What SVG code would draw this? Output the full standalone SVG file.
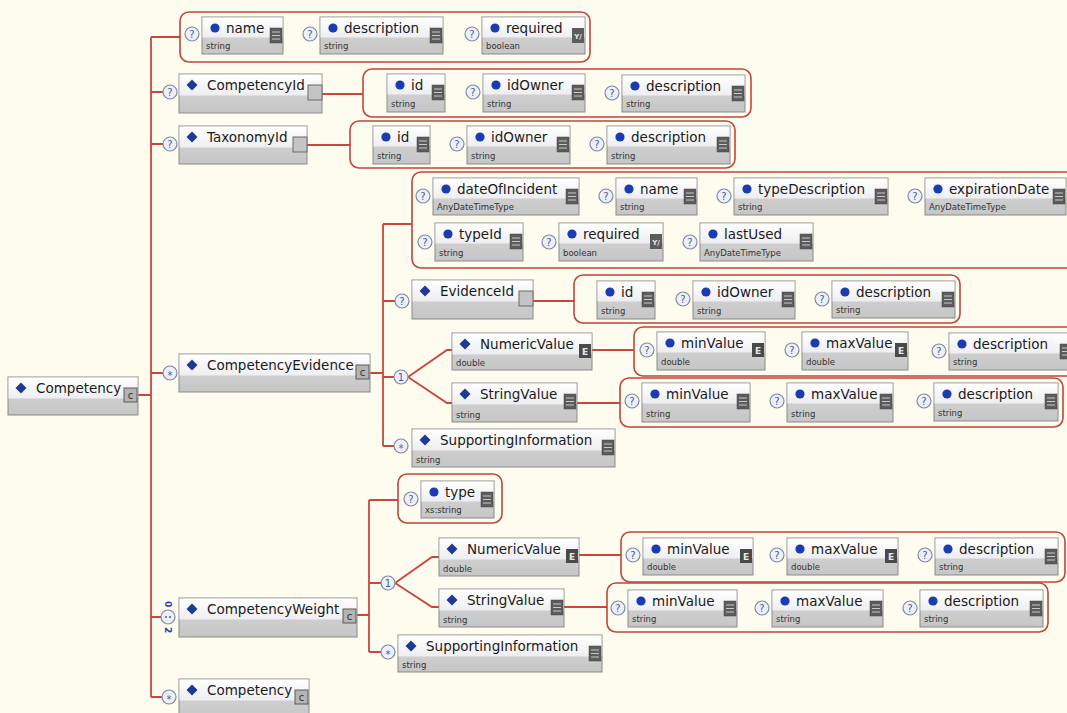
<svg xmlns="http://www.w3.org/2000/svg" xmlns:xlink="http://www.w3.org/1999/xlink" width="1067" height="713" viewBox="0 0 1067 713">
<defs>
<style>
.bx{fill:url(#gg);stroke:#8a8a8a;stroke-width:1}
.hd{fill:url(#gw)}
.nm{font-family:"DejaVu Sans","Liberation Sans",sans-serif;font-size:13.5px;fill:#1a1a1a}
.ty{font-family:"DejaVu Sans","Liberation Sans",sans-serif;font-size:8.5px;fill:#333}
.grp{fill:none;stroke:#c0463e;stroke-width:1.6}
.cn{fill:none;stroke:#c8463e;stroke-width:1.8}
.mc{fill:#eef0f8;stroke:#8088a8;stroke-width:1.2}
.mt{font-family:"DejaVu Sans","Liberation Sans",sans-serif;font-size:10px;fill:#4a5a9a;text-anchor:middle}
.ict{font-family:"DejaVu Sans","Liberation Sans",sans-serif;font-size:9px;fill:#e8e8e8;text-anchor:middle;font-weight:bold}
.icc{font-family:"DejaVu Sans","Liberation Sans",sans-serif;font-size:10px;fill:#333;text-anchor:middle}
.card{font-family:"DejaVu Sans","Liberation Sans",sans-serif;font-size:9px;fill:#2a3aa0;text-anchor:middle;dominant-baseline:central;font-weight:bold}
</style>
<linearGradient id="gw" x1="0" y1="0" x2="0" y2="1"><stop offset="0" stop-color="#ffffff"/><stop offset="1" stop-color="#eeeef2"/></linearGradient>
<linearGradient id="gg" x1="0" y1="0" x2="0" y2="1"><stop offset="0" stop-color="#d8d8d8"/><stop offset="1" stop-color="#c6c6c6"/></linearGradient>
<path id="dia" d="M0,-5.5L5.5,0L0,5.5L-5.5,0Z" fill="#1e3a94"/>
<circle id="dot" r="4.6" fill="#1a3cb0"/>
<g id="m-q"><circle r="7" class="mc"/><text y="3.6" class="mt">?</text></g>
<g id="m-s"><circle r="7" class="mc"/><text y="5.5" class="mt">*</text></g>
<g id="m-1"><circle r="7" class="mc"/><text y="3.6" class="mt">1</text></g>
<g id="m-d"><circle r="7" class="mc"/><circle cx="-2" cy="0" r="1" fill="#4a5a9a"/><circle cx="2" cy="0" r="1" fill="#4a5a9a"/></g>
<g id="ic-l"><rect width="12" height="15" fill="#5c5c5c" stroke="#444" stroke-width="0.5"/><path d="M2,4H10M2,7.5H10M2,11H10" stroke="#c8c8c8" stroke-width="1.2"/></g>
<g id="ic-e"><rect width="12" height="14" fill="#4a4a4a"/><text x="6" y="11" class="ict">E</text></g>
<g id="ic-c"><rect width="13" height="14" fill="#b4b4b4" stroke="#5a5a5a"/><text x="6.5" y="10.5" class="icc">c</text></g>
<g id="ic-x"><rect width="14" height="15" fill="#c4c4c4" stroke="#6a6a6a"/></g>
<g id="ic-yn"><rect width="12" height="15" fill="#5c5c5c"/><text x="6" y="11" class="ict" style="font-size:7px">Y/</text></g>
</defs>
<rect width="1067" height="713" fill="#fefcef"/>

<g id="connectors">
<path class="cn" d="M151,37V697M151,37H180M151,92H163M151,144H163M138,395H151M151,373H163M151,617H161M151,697H162"/>
<path class="cn" d="M322,94H363M307,145H350"/>
<path class="cn" d="M370,373H383M383,224V446M383,224H412M383,301H395M383,377H394M383,446H394"/>
<path class="cn" d="M408,377L447,350H452M408,377L447,403H452"/>
<path class="cn" d="M533,301H574M592,350H634M577,403H620"/>
<path class="cn" d="M357,615H369M369,500V652M369,500H398M369,583H381M369,652H381"/>
<path class="cn" d="M395,583L432,557H439M395,583L432,607H439"/>
<path class="cn" d="M579,555H621M564,607H607"/>
</g>

<g id="groups">
<rect id="g-top" class="grp" x="180" y="12" width="410" height="50" rx="9"/>
<rect id="g-cid" class="grp" x="363" y="69" width="388" height="48" rx="9"/>
<rect id="g-tid" class="grp" x="350" y="121" width="385" height="47" rx="9"/>
<rect id="g-ev" class="grp" x="412" y="172" width="670" height="96" rx="9"/>
<rect id="g-evid" class="grp" x="574" y="275" width="386" height="48" rx="9"/>
<rect id="g-evnv" class="grp" x="634" y="327" width="445" height="49" rx="9"/>
<rect id="g-evsv" class="grp" x="620" y="378" width="443" height="49" rx="9"/>
<rect id="g-type" class="grp" x="398" y="474" width="104" height="49" rx="9"/>
<rect id="g-cwnv" class="grp" x="621" y="532" width="444" height="50" rx="9"/>
<rect id="g-cwsv" class="grp" x="607" y="583" width="441" height="49" rx="9"/>
</g>

<g id="markers">
<use href="#m-q" x="170" y="92"/>
<use href="#m-q" x="170" y="144"/>
<use href="#m-s" x="170" y="373"/>
<use href="#m-d" x="168" y="617"/>
<text class="card" transform="translate(168,604) rotate(90)">0</text>
<text class="card" transform="translate(168,630) rotate(90)">2</text>
<use href="#m-s" x="169" y="697"/>
<use href="#m-q" x="402" y="301"/>
<use href="#m-1" x="401" y="377"/>
<use href="#m-s" x="401" y="446"/>
<use href="#m-1" x="388" y="583"/>
<use href="#m-s" x="388" y="652"/>
</g>

<!-- element nodes -->
<g id="n-competency">
<rect class="bx" x="8" y="377" width="130" height="38"/><rect class="hd" x="8.5" y="377.5" width="129" height="21"/>
<use href="#dia" x="21" y="388"/><text class="nm" x="36" y="393">Competency</text><use href="#ic-c" x="124" y="388"/>
</g>
<g id="n-competencyId">
<rect class="bx" x="179" y="74" width="143" height="39"/><rect class="hd" x="179.5" y="74.5" width="142" height="21"/>
<use href="#dia" x="192" y="85"/><text class="nm" x="207" y="90">CompetencyId</text><use href="#ic-x" x="308" y="85"/>
</g>
<g id="n-taxonomyId">
<rect class="bx" x="179" y="126" width="128" height="38"/><rect class="hd" x="179.5" y="126.5" width="127" height="21"/>
<use href="#dia" x="192" y="137"/><text class="nm" x="207" y="142">TaxonomyId</text><use href="#ic-x" x="293" y="137"/>
</g>
<g id="n-competencyEvidence">
<rect class="bx" x="179" y="354" width="191" height="38"/><rect class="hd" x="179.5" y="354.5" width="190" height="21"/>
<use href="#dia" x="192" y="365"/><text class="nm" x="207" y="370">CompetencyEvidence</text><use href="#ic-c" x="356" y="365"/>
</g>
<g id="n-evidenceId">
<rect class="bx" x="412" y="280" width="121" height="39"/><rect class="hd" x="412.5" y="280.5" width="120" height="21"/>
<use href="#dia" x="425" y="291"/><text class="nm" x="440" y="296">EvidenceId</text><use href="#ic-x" x="519" y="291"/>
</g>
<g id="n-ev-numericValue">
<rect class="bx" x="452" y="333" width="140" height="37"/><rect class="hd" x="452.5" y="333.5" width="139" height="21"/>
<use href="#dia" x="465" y="344"/><text class="nm" x="480" y="349">NumericValue</text><use href="#ic-e" x="579" y="344"/>
<text class="ty" x="456" y="366">double</text>
</g>
<g id="n-ev-stringValue">
<rect class="bx" x="452" y="383" width="125" height="39"/><rect class="hd" x="452.5" y="383.5" width="124" height="21"/>
<use href="#dia" x="465" y="394"/><text class="nm" x="480" y="399">StringValue</text><use href="#ic-l" x="564" y="394"/>
<text class="ty" x="456" y="418">string</text>
</g>
<g id="n-ev-supportingInformation">
<rect class="bx" x="412" y="429" width="203" height="38"/><rect class="hd" x="412.5" y="429.5" width="202" height="21"/>
<use href="#dia" x="425" y="440"/><text class="nm" x="440" y="445">SupportingInformation</text><use href="#ic-l" x="602" y="440"/>
<text class="ty" x="416" y="463">string</text>
</g>
<g id="n-competencyWeight">
<rect class="bx" x="179" y="598" width="178" height="39"/><rect class="hd" x="179.5" y="598.5" width="177" height="21"/>
<use href="#dia" x="192" y="609"/><text class="nm" x="207" y="614">CompetencyWeight</text><use href="#ic-c" x="343" y="609"/>
</g>
<g id="n-cw-numericValue">
<rect class="bx" x="439" y="538" width="140" height="38"/><rect class="hd" x="439.5" y="538.5" width="139" height="21"/>
<use href="#dia" x="452" y="549"/><text class="nm" x="467" y="554">NumericValue</text><use href="#ic-e" x="566" y="549"/>
<text class="ty" x="443" y="572">double</text>
</g>
<g id="n-cw-stringValue">
<rect class="bx" x="439" y="589" width="125" height="38"/><rect class="hd" x="439.5" y="589.5" width="124" height="21"/>
<use href="#dia" x="452" y="600"/><text class="nm" x="467" y="605">StringValue</text><use href="#ic-l" x="551" y="600"/>
<text class="ty" x="443" y="623">string</text>
</g>
<g id="n-cw-supportingInformation">
<rect class="bx" x="398" y="635" width="204" height="37"/><rect class="hd" x="398.5" y="635.5" width="203" height="21"/>
<use href="#dia" x="411" y="646"/><text class="nm" x="426" y="651">SupportingInformation</text><use href="#ic-l" x="589" y="646"/>
<text class="ty" x="402" y="668">string</text>
</g>
<g id="n-competency-ref">
<rect class="bx" x="179" y="679" width="130" height="40"/><rect class="hd" x="179.5" y="679.5" width="129" height="21"/>
<use href="#dia" x="192" y="690"/><text class="nm" x="207" y="695">Competency</text><use href="#ic-c" x="295" y="690"/>
</g>

<!-- attribute nodes -->
<g id="a-name">
<use href="#m-q" x="192" y="34"/>
<rect class="bx" x="202" y="17" width="81" height="37"/><rect class="hd" x="202.5" y="17.5" width="80" height="20"/>
<use href="#dot" x="215" y="28"/><text class="nm" x="226" y="33">name</text><use href="#ic-l" x="270" y="28"/>
<text class="ty" x="206" y="49">string</text>
</g>
<g id="a-description">
<use href="#m-q" x="310" y="34"/>
<rect class="bx" x="320" y="17" width="123" height="37"/><rect class="hd" x="320.5" y="17.5" width="122" height="20"/>
<use href="#dot" x="333" y="28"/><text class="nm" x="344" y="33">description</text><use href="#ic-l" x="430" y="28"/>
<text class="ty" x="324" y="49">string</text>
</g>
<g id="a-required">
<use href="#m-q" x="472" y="34"/>
<rect class="bx" x="482" y="17" width="103" height="37"/><rect class="hd" x="482.5" y="17.5" width="102" height="20"/>
<use href="#dot" x="495" y="28"/><text class="nm" x="506" y="33">required</text><use href="#ic-yn" x="572" y="28"/>
<text class="ty" x="486" y="49">boolean</text>
</g>

<g id="a-cid-id">
<rect class="bx" x="387" y="74" width="58" height="38"/><rect class="hd" x="387.5" y="74.5" width="57" height="20"/>
<use href="#dot" x="400" y="85"/><text class="nm" x="411" y="90">id</text><use href="#ic-l" x="432" y="85"/>
<text class="ty" x="391" y="107">string</text>
</g>
<g id="a-cid-idOwner">
<use href="#m-q" x="473" y="92"/>
<rect class="bx" x="483" y="74" width="102" height="38"/><rect class="hd" x="483.5" y="74.5" width="101" height="20"/>
<use href="#dot" x="496" y="85"/><text class="nm" x="507" y="90">idOwner</text><use href="#ic-l" x="572" y="85"/>
<text class="ty" x="487" y="107">string</text>
</g>
<g id="a-cid-description">
<use href="#m-q" x="612" y="93"/>
<rect class="bx" x="622" y="75" width="123" height="37"/><rect class="hd" x="622.5" y="75.5" width="122" height="20"/>
<use href="#dot" x="635" y="86"/><text class="nm" x="646" y="91">description</text><use href="#ic-l" x="732" y="86"/>
<text class="ty" x="626" y="107">string</text>
</g>

<g id="a-tid-id">
<rect class="bx" x="373" y="126" width="57" height="38"/><rect class="hd" x="373.5" y="126.5" width="56" height="20"/>
<use href="#dot" x="386" y="137"/><text class="nm" x="397" y="142">id</text><use href="#ic-l" x="417" y="137"/>
<text class="ty" x="377" y="159">string</text>
</g>
<g id="a-tid-idOwner">
<use href="#m-q" x="457" y="144"/>
<rect class="bx" x="467" y="126" width="103" height="38"/><rect class="hd" x="467.5" y="126.5" width="102" height="20"/>
<use href="#dot" x="480" y="137"/><text class="nm" x="491" y="142">idOwner</text><use href="#ic-l" x="557" y="137"/>
<text class="ty" x="471" y="159">string</text>
</g>
<g id="a-tid-description">
<use href="#m-q" x="597" y="144"/>
<rect class="bx" x="607" y="126" width="123" height="38"/><rect class="hd" x="607.5" y="126.5" width="122" height="20"/>
<use href="#dot" x="620" y="137"/><text class="nm" x="631" y="142">description</text><use href="#ic-l" x="717" y="137"/>
<text class="ty" x="611" y="159">string</text>
</g>

<g id="a-dateOfIncident">
<use href="#m-q" x="423" y="196"/>
<rect class="bx" x="433" y="178" width="146" height="37"/><rect class="hd" x="433.5" y="178.5" width="145" height="20"/>
<use href="#dot" x="446" y="189"/><text class="nm" x="457" y="194">dateOfIncident</text><use href="#ic-l" x="566" y="189"/>
<text class="ty" x="437" y="210">AnyDateTimeType</text>
</g>
<g id="a-ev-name">
<use href="#m-q" x="606" y="196"/>
<rect class="bx" x="616" y="178" width="81" height="37"/><rect class="hd" x="616.5" y="178.5" width="80" height="20"/>
<use href="#dot" x="629" y="189"/><text class="nm" x="640" y="194">name</text><use href="#ic-l" x="684" y="189"/>
<text class="ty" x="620" y="210">string</text>
</g>
<g id="a-typeDescription">
<use href="#m-q" x="724" y="196"/>
<rect class="bx" x="734" y="178" width="154" height="37"/><rect class="hd" x="734.5" y="178.5" width="153" height="20"/>
<use href="#dot" x="747" y="189"/><text class="nm" x="758" y="194">typeDescription</text><use href="#ic-l" x="875" y="189"/>
<text class="ty" x="738" y="210">string</text>
</g>
<g id="a-expirationDate">
<use href="#m-q" x="915" y="196"/>
<rect class="bx" x="925" y="178" width="141" height="37"/><rect class="hd" x="925.5" y="178.5" width="140" height="20"/>
<use href="#dot" x="938" y="189"/><text class="nm" x="949" y="194">expirationDate</text><use href="#ic-l" x="1053" y="189"/>
<text class="ty" x="929" y="210">AnyDateTimeType</text>
</g>
<g id="a-typeId">
<use href="#m-q" x="425" y="242"/>
<rect class="bx" x="435" y="223" width="88" height="38"/><rect class="hd" x="435.5" y="223.5" width="87" height="20"/>
<use href="#dot" x="448" y="234"/><text class="nm" x="459" y="239">typeId</text><use href="#ic-l" x="510" y="234"/>
<text class="ty" x="439" y="256">string</text>
</g>
<g id="a-ev-required">
<use href="#m-q" x="549" y="242"/>
<rect class="bx" x="559" y="223" width="104" height="38"/><rect class="hd" x="559.5" y="223.5" width="103" height="20"/>
<use href="#dot" x="572" y="234"/><text class="nm" x="583" y="239">required</text><use href="#ic-yn" x="650" y="234"/>
<text class="ty" x="563" y="256">boolean</text>
</g>
<g id="a-lastUsed">
<use href="#m-q" x="690" y="242"/>
<rect class="bx" x="700" y="223" width="113" height="38"/><rect class="hd" x="700.5" y="223.5" width="112" height="20"/>
<use href="#dot" x="713" y="234"/><text class="nm" x="724" y="239">lastUsed</text><use href="#ic-l" x="800" y="234"/>
<text class="ty" x="704" y="256">AnyDateTimeType</text>
</g>

<g id="a-evid-id">
<rect class="bx" x="597" y="281" width="58" height="38"/><rect class="hd" x="597.5" y="281.5" width="57" height="20"/>
<use href="#dot" x="610" y="292"/><text class="nm" x="621" y="297">id</text><use href="#ic-l" x="642" y="292"/>
<text class="ty" x="601" y="314">string</text>
</g>
<g id="a-evid-idOwner">
<use href="#m-q" x="683" y="299"/>
<rect class="bx" x="693" y="281" width="102" height="38"/><rect class="hd" x="693.5" y="281.5" width="101" height="20"/>
<use href="#dot" x="706" y="292"/><text class="nm" x="717" y="297">idOwner</text><use href="#ic-l" x="782" y="292"/>
<text class="ty" x="697" y="314">string</text>
</g>
<g id="a-evid-description">
<use href="#m-q" x="822" y="299"/>
<rect class="bx" x="832" y="281" width="123" height="37"/><rect class="hd" x="832.5" y="281.5" width="122" height="20"/>
<use href="#dot" x="845" y="292"/><text class="nm" x="856" y="297">description</text><use href="#ic-l" x="942" y="292"/>
<text class="ty" x="836" y="313">string</text>
</g>

<g id="a-evnv-minValue">
<use href="#m-q" x="647" y="350"/>
<rect class="bx" x="657" y="332" width="108" height="38"/><rect class="hd" x="657.5" y="332.5" width="107" height="20"/>
<use href="#dot" x="670" y="343"/><text class="nm" x="681" y="348">minValue</text><use href="#ic-e" x="752" y="343"/>
<text class="ty" x="661" y="365">double</text>
</g>
<g id="a-evnv-maxValue">
<use href="#m-q" x="792" y="350"/>
<rect class="bx" x="802" y="332" width="106" height="38"/><rect class="hd" x="802.5" y="332.5" width="105" height="20"/>
<use href="#dot" x="815" y="343"/><text class="nm" x="826" y="348">maxValue</text><use href="#ic-e" x="895" y="343"/>
<text class="ty" x="806" y="365">double</text>
</g>
<g id="a-evnv-description">
<use href="#m-q" x="939" y="351"/>
<rect class="bx" x="949" y="333" width="124" height="37"/><rect class="hd" x="949.5" y="333.5" width="123" height="20"/>
<use href="#dot" x="962" y="344"/><text class="nm" x="973" y="349">description</text><use href="#ic-l" x="1060" y="344"/>
<text class="ty" x="953" y="365">string</text>
</g>

<g id="a-evsv-minValue">
<use href="#m-q" x="632" y="401"/>
<rect class="bx" x="642" y="383" width="108" height="39"/><rect class="hd" x="642.5" y="383.5" width="107" height="20"/>
<use href="#dot" x="655" y="394"/><text class="nm" x="666" y="399">minValue</text><use href="#ic-l" x="737" y="394"/>
<text class="ty" x="646" y="417">string</text>
</g>
<g id="a-evsv-maxValue">
<use href="#m-q" x="777" y="401"/>
<rect class="bx" x="787" y="383" width="106" height="39"/><rect class="hd" x="787.5" y="383.5" width="105" height="20"/>
<use href="#dot" x="800" y="394"/><text class="nm" x="811" y="399">maxValue</text><use href="#ic-l" x="880" y="394"/>
<text class="ty" x="791" y="417">string</text>
</g>
<g id="a-evsv-description">
<use href="#m-q" x="924" y="401"/>
<rect class="bx" x="934" y="383" width="124" height="38"/><rect class="hd" x="934.5" y="383.5" width="123" height="20"/>
<use href="#dot" x="947" y="394"/><text class="nm" x="958" y="399">description</text><use href="#ic-l" x="1045" y="394"/>
<text class="ty" x="938" y="416">string</text>
</g>

<g id="a-type">
<use href="#m-q" x="411" y="499"/>
<rect class="bx" x="421" y="481" width="73" height="37"/><rect class="hd" x="421.5" y="481.5" width="72" height="20"/>
<use href="#dot" x="434" y="492"/><text class="nm" x="445" y="497">type</text><use href="#ic-l" x="481" y="492"/>
<text class="ty" x="425" y="513">xs:string</text>
</g>

<g id="a-cwnv-minValue">
<use href="#m-q" x="633" y="555"/>
<rect class="bx" x="643" y="538" width="110" height="37"/><rect class="hd" x="643.5" y="538.5" width="109" height="20"/>
<use href="#dot" x="656" y="549"/><text class="nm" x="667" y="554">minValue</text><use href="#ic-e" x="740" y="549"/>
<text class="ty" x="647" y="570">double</text>
</g>
<g id="a-cwnv-maxValue">
<use href="#m-q" x="777" y="555"/>
<rect class="bx" x="787" y="538" width="111" height="37"/><rect class="hd" x="787.5" y="538.5" width="110" height="20"/>
<use href="#dot" x="800" y="549"/><text class="nm" x="811" y="554">maxValue</text><use href="#ic-e" x="885" y="549"/>
<text class="ty" x="791" y="570">double</text>
</g>
<g id="a-cwnv-description">
<use href="#m-q" x="925" y="555"/>
<rect class="bx" x="935" y="538" width="123" height="37"/><rect class="hd" x="935.5" y="538.5" width="122" height="20"/>
<use href="#dot" x="948" y="549"/><text class="nm" x="959" y="554">description</text><use href="#ic-l" x="1045" y="549"/>
<text class="ty" x="939" y="570">string</text>
</g>

<g id="a-cwsv-minValue">
<use href="#m-q" x="618" y="608"/>
<rect class="bx" x="628" y="590" width="109" height="37"/><rect class="hd" x="628.5" y="590.5" width="108" height="20"/>
<use href="#dot" x="641" y="601"/><text class="nm" x="652" y="606">minValue</text><use href="#ic-l" x="724" y="601"/>
<text class="ty" x="632" y="622">string</text>
</g>
<g id="a-cwsv-maxValue">
<use href="#m-q" x="762" y="608"/>
<rect class="bx" x="772" y="590" width="111" height="37"/><rect class="hd" x="772.5" y="590.5" width="110" height="20"/>
<use href="#dot" x="785" y="601"/><text class="nm" x="796" y="606">maxValue</text><use href="#ic-l" x="870" y="601"/>
<text class="ty" x="776" y="622">string</text>
</g>
<g id="a-cwsv-description">
<use href="#m-q" x="910" y="608"/>
<rect class="bx" x="920" y="590" width="123" height="37"/><rect class="hd" x="920.5" y="590.5" width="122" height="20"/>
<use href="#dot" x="933" y="601"/><text class="nm" x="944" y="606">description</text><use href="#ic-l" x="1030" y="601"/>
<text class="ty" x="924" y="622">string</text>
</g>
</svg>
